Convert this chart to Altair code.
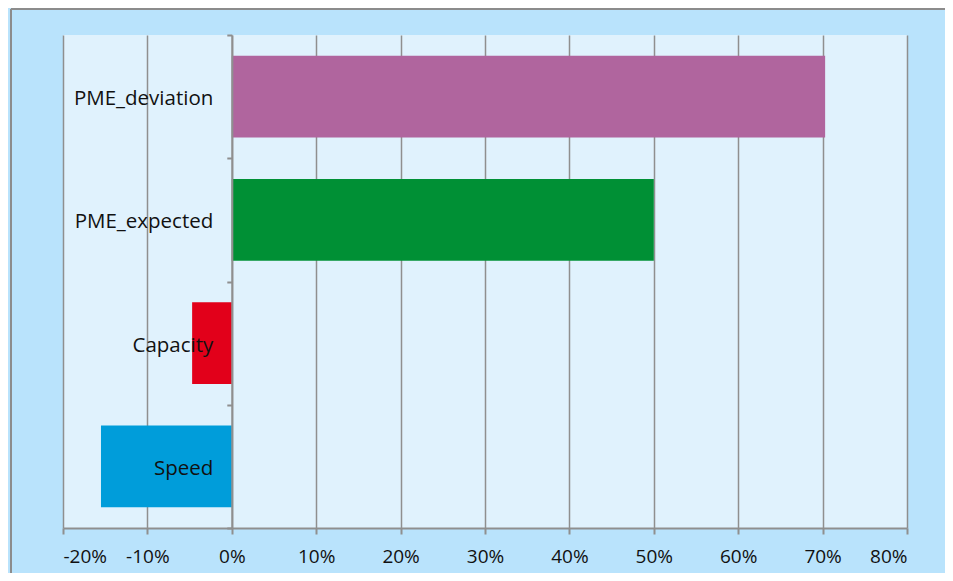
import altair as alt
import pandas as pd

categories = ["PME_deviation", "PME_expected", "Capacity", "Speed"]
values = [0.703, 0.50, -0.047, -0.155]
colors = ["#B0659E", "#009035", "#E2001A", "#009DDA"]
x_ticks = [-0.2, -0.1, 0.0, 0.1, 0.2, 0.3, 0.4, 0.5, 0.6, 0.7, 0.8]

df = pd.DataFrame({"category": categories, "value": values})

W, H = 844, 493
PAD = {"left": 55, "top": 27, "right": 38, "bottom": 45}
GRAY = "#8f8f8f"
FONT = "Open Sans"

bars = alt.Chart(df).mark_bar(height=alt.RelativeBandSize(0.665)).encode(
    x=alt.X(
        "value:Q",
        scale=alt.Scale(domain=[-0.2, 0.8], nice=False, zero=False),
        axis=alt.Axis(
            values=x_ticks, title=None, grid=True,
            labelExpr="(datum.value < -0.0001 ? '-' : '') + format(abs(datum.value * 100), '.0f') + '%'",
            gridColor=GRAY, gridWidth=1.5, domainColor=GRAY, domainWidth=2,
            tickColor=GRAY, tickWidth=2, tickSize=6, labelPadding=13,
            labelFont=FONT, labelFontSize=19, labelColor="#111111", zindex=0,
        ),
    ),
    y=alt.Y(
        "category:N",
        sort=categories,
        scale=alt.Scale(paddingInner=0, paddingOuter=0),
        axis=alt.Axis(
            title=None, offset=-168.8, tickBand="extent", grid=False,
            domainColor=GRAY, domainWidth=2, tickColor=GRAY, tickWidth=2,
            tickSize=5, labelPadding=14, labelFont=FONT, labelFontSize=20.5,
            labelOffset=2, labelColor="#111111", zindex=1,
        ),
    ),
    color=alt.Color(
        "category:N",
        scale=alt.Scale(domain=categories, range=colors),
        legend=None,
    ),
)

border_left = alt.Chart(df).mark_rule(color="#8c8c8c", strokeWidth=2).encode(
    x=alt.value(-52), y=alt.value(-26), y2=alt.value(H + PAD["bottom"])
)
border_top = alt.Chart(df).mark_rule(color="#8c8c8c", strokeWidth=2).encode(
    x=alt.value(-52), x2=alt.value(W + PAD["right"]), y=alt.value(-26)
)

chart = alt.layer(bars, border_left, border_top).properties(
    width=W, height=H,
    padding=PAD,
    autosize=alt.AutoSizeParams(type="none"),
    background="#B9E3FC",
).configure_view(fill="#E0F2FD", stroke=None)

chart.save("out.html", embed_options={"renderer": "svg", "actions": False})
